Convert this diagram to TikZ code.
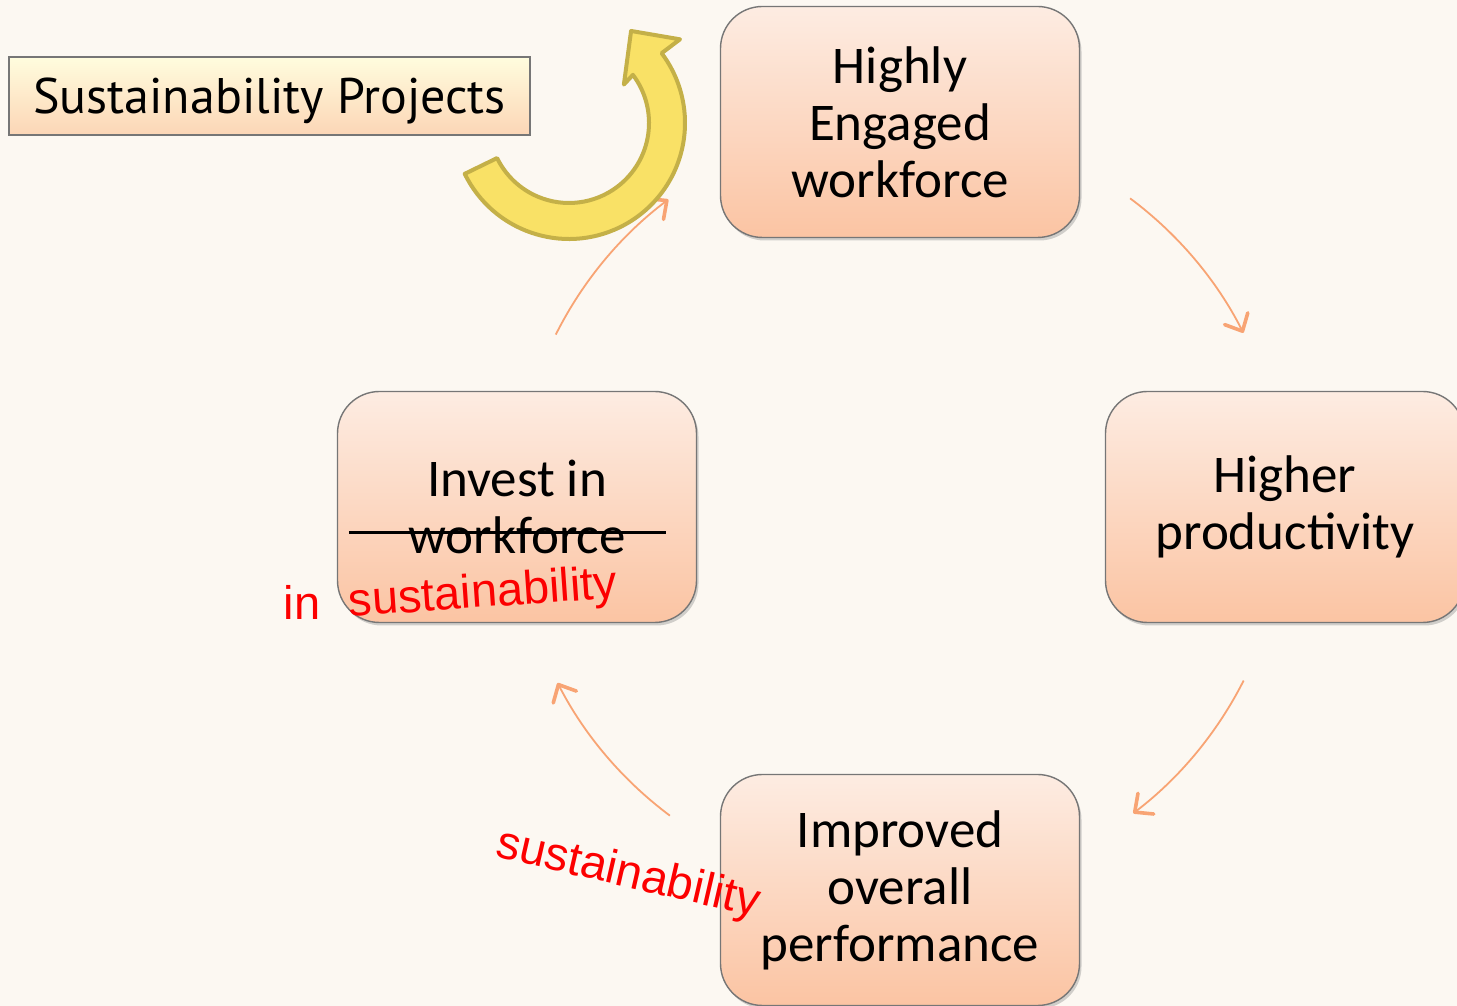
\documentclass[tikz,border=0pt]{standalone}
\usepackage{fontspec}
\setmainfont{Carlito}
\newfontfamily\titlefont{PT Sans}
\newfontfamily\notefont{Liberation Sans}
\usetikzlibrary{arrows.meta, positioning, shadows}

\definecolor{paper}{RGB}{252,248,242}
\definecolor{peachtop}{RGB}{253,236,226}
\definecolor{peachbot}{RGB}{251,196,163}
\definecolor{boxline}{RGB}{118,118,118}
\definecolor{labeltop}{RGB}{255,253,222}
\definecolor{labelbot}{RGB}{252,214,182}
\definecolor{cyclearrow}{RGB}{248,164,116}
\definecolor{sunfill}{RGB}{249,225,102}
\definecolor{sunline}{RGB}{196,176,72}
\definecolor{notered}{RGB}{252,0,0}

\begin{document}
\begin{tikzpicture}[
      x=0.5pt, y=0.5pt,
      cyclebox/.style={
        rectangle, draw=boxline, line width=0.7pt, rounded corners=21pt,
        top color=peachtop, bottom color=peachbot, align=center,
        minimum width=179.5pt, minimum height=115.5pt, inner sep=0pt,
        font=\fontsize{26.5}{28.5}\selectfont,
        execute at begin node={\rule{0pt}{26pt}},
        drop shadow={shadow xshift=1pt, shadow yshift=-1.5pt, opacity=0.35}
      },
      titlebox/.style={
        rectangle, draw=boxline, line width=0.7pt,
        top color=labeltop, bottom color=labelbot,
        minimum width=260.5pt, minimum height=39pt, inner sep=0pt, text depth=0pt,
        font=\titlefont\fontsize{25}{28}\selectfont
      },
      notelabel/.style={text=notered, inner sep=0pt, font=\notefont\fontsize{23.5}{26}\selectfont},
      cyclearc/.style={
        draw=cyclearrow, line width=0.9pt,
        -{Straight Barb[length=7pt, width=13pt, line width=1.8pt, round]}
      },
      sunarrow/.style={draw=sunline, fill=sunfill, line width=2pt, line join=round}
    ]
    \useasboundingbox (0,0) rectangle (1457,1006);
    \clip (0,0) rectangle (1457,1006);
    \fill[paper] (0,0) rectangle (1457,1006);

    % the four steps of the cycle
    \node[cyclebox] (engaged) at (900,884) {Highly\\Engaged\\workforce};
    \node[cyclebox] (productivity) at (1285,499) {Higher\\productivity};
    \node[cyclebox] (invest) at (517,499) {Invest in\\workforce};
    \node[cyclebox] (performance) at (900,116) {Improved\\overall\\performance};

    % thin arcs round the hub of the cycle
    \coordinate (hub) at (900,499);
    \foreach \s/\e in {53.3/26.9, -26.8/-52.7, -126.7/-152.8, 153.4/127}
      \draw[cyclearc] (hub) ++(\s:385) arc[start angle=\s, end angle=\e, radius=385];

    % corrections written over the chart
    \draw[line width=1.5pt] ([shift={(12,-26)}]invest.west) -- ([shift={(-31,-26)}]invest.east);
    \node[notelabel, rotate=4] (newtopic) at (483,411) {sustainability};
    \node[notelabel] (newin) at (302,404) {in};
    \node[notelabel, rotate=-13] (newcycle) at (628,131) {sustainability};

    % label and curved yellow arrow
    \node[titlebox] (projects) at (269.5,910) {Sustainability Projects};
    \coordinate (sun) at (569,883);
    \draw[sunarrow] (sun) ++(206:116) arc[start angle=206, end angle=397, radius=116]
      -- ([shift={(37:139)}]sun) -- ([shift={(56:111)}]sun) -- ([shift={(35:67)}]sun)
      -- ([shift={(37:80)}]sun) arc[start angle=397, end angle=206, radius=80] -- cycle;
  \end{tikzpicture}
\end{document}
